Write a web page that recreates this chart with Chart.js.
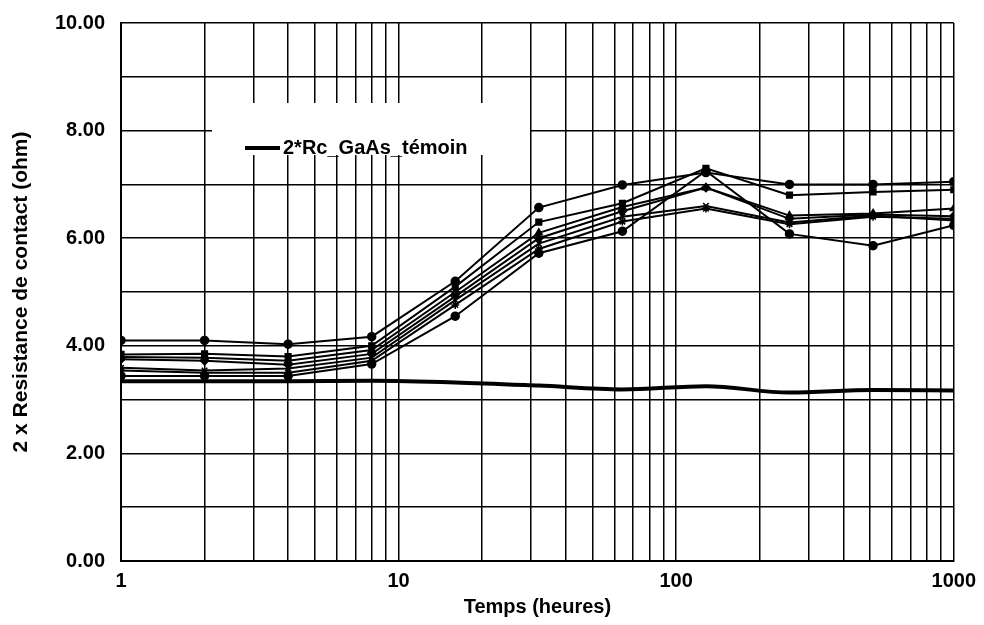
<!DOCTYPE html>
<html>
<head>
<meta charset="utf-8">
<script src="https://cdn.jsdelivr.net/npm/chart.js@4.4.0/dist/chart.umd.min.js"></script>
<style>
  html, body { margin: 0; padding: 0; background: #fff; }
  #wrap { width: 984px; height: 625px; }
</style>
</head>
<body>
<div id="wrap"><canvas id="chart"></canvas></div>
<script>
// temps de vieillissement (heures)
const hours = [1, 2, 4, 8, 16, 32, 64, 128, 256, 512, 1000];

// 2 x résistance de contact (ohm), une liste par échantillon
const serie1 = [4.10, 4.10, 4.03, 4.17, 5.20, 6.57, 6.99, 7.22, 7.00, 7.00, 7.05];
const serie2 = [3.84, 3.85, 3.80, 4.00, 5.10, 6.30, 6.65, 7.30, 6.80, 6.86, 6.90];
const serie3 = [3.79, 3.78, 3.72, 3.92, 5.00, 6.10, 6.58, 6.94, 6.42, 6.46, 6.55];
const serie4 = [3.75, 3.72, 3.65, 3.85, 4.92, 6.00, 6.50, 6.94, 6.36, 6.44, 6.41];
const serie5 = [3.59, 3.54, 3.58, 3.78, 4.85, 5.90, 6.40, 6.60, 6.29, 6.42, 6.33];
const serie6 = [3.54, 3.50, 3.50, 3.72, 4.76, 5.80, 6.31, 6.55, 6.26, 6.40, 6.36];
const serie7 = [3.44, 3.44, 3.44, 3.66, 4.55, 5.72, 6.13, 7.25, 6.08, 5.86, 6.24];
const temoin = [3.34, 3.34, 3.34, 3.35, 3.32, 3.26, 3.19, 3.25, 3.13, 3.18, 3.17];

const temoinLabel = '2*Rc_GaAs_témoin';
const xTickLabels = [1, 10, 100, 1000];

const FONT = 'Liberation Sans, Arial, sans-serif';

function toPoints(values) {
    return values.map((v, i) => ({ x: hours[i], y: v }));
}

const samples = [serie1, serie2, serie3, serie4, serie5, serie6, serie7];
const markers = ['circle', 'rect', 'triangle', 'rectRot', 'crossRot', 'star', 'circle'];

const datasets = samples.map((s, i) => ({
    label: 'Rc ' + (i + 1),
    data: toPoints(s),
    borderColor: '#000',
    backgroundColor: '#000',
    borderWidth: 2,
    pointStyle: markers[i],
    pointRadius: 4,
    pointBorderWidth: 1.5,
    tension: 0
}));

datasets.push({
    label: temoinLabel,
    data: toPoints(temoin),
    borderColor: '#000',
    backgroundColor: '#000',
    borderWidth: 4,
    pointRadius: 0,
    cubicInterpolationMode: 'monotone',
    isTemoin: true
});

// légende dans la zone du graphe (boîte blanche)
const legendInside = {
    id: 'legendInside',
    beforeDatasetsDraw(chart) {
        const ctx = chart.ctx;
        const ds = chart.data.datasets.find(d => d.isTemoin);
        ctx.save();
        ctx.fillStyle = '#fff';
        ctx.fillRect(212, 103, 318, 52);
        ctx.strokeStyle = '#000';
        ctx.lineWidth = 4;
        ctx.beginPath();
        ctx.moveTo(245, 148);
        ctx.lineTo(280, 148);
        ctx.stroke();
        ctx.fillStyle = '#000';
        ctx.font = 'bold 20px ' + FONT;
        ctx.textBaseline = 'middle';
        ctx.fillText(ds.label, 283, 148);
        ctx.restore();
    }
};

new Chart(document.getElementById('chart'), {
    type: 'line',
    data: { datasets: datasets },
    plugins: [legendInside],
    options: {
        responsive: true,
        maintainAspectRatio: false,
        animation: false,
        layout: { padding: { top: 23, right: 24, left: 0, bottom: 0 } },
        plugins: {
            legend: { display: false },
            tooltip: { enabled: false }
        },
        scales: {
            x: {
                type: 'logarithmic',
                min: 1,
                max: 1000,
                afterBuildTicks(scale) {
                    const t = [];
                    for (let d = 1; d < 1000; d *= 10) {
                        for (let k = 1; k < 10; k++) t.push({ value: k * d });
                    }
                    t.push({ value: 1000 });
                    scale.ticks = t;
                },
                afterFit(scale) { scale.height = 64; },
                ticks: {
                    autoSkip: false,
                    maxRotation: 0,
                    padding: 8,
                    color: '#000',
                    font: { family: FONT, size: 20, weight: 'bold' },
                    callback: v => xTickLabels.includes(v) ? String(v) : ''
                },
                grid: { color: '#000', lineWidth: 1.5, drawTicks: false },
                border: { color: '#000', width: 2 },
                title: {
                    display: true,
                    text: 'Temps (heures)',
                    color: '#000',
                    font: { family: FONT, size: 20, weight: 'bold' },
                    padding: { top: 0, bottom: 6 }
                }
            },
            y: {
                min: 0,
                max: 10,
                afterFit(scale) {
                    scale.width = 121;
                    scale.paddingTop = 0;
                    scale.paddingBottom = 0;
                },
                ticks: {
                    stepSize: 1,
                    padding: 16,
                    color: '#000',
                    font: { family: FONT, size: 20, weight: 'bold' },
                    callback: v => (v % 2 === 0) ? v.toFixed(2) : ''
                },
                grid: { color: '#000', lineWidth: 1.5, drawTicks: false },
                border: { color: '#000', width: 2 },
                title: {
                    display: true,
                    text: '2 x Resistance de contact (ohm)',
                    color: '#000',
                    font: { family: FONT, size: 21, weight: 'bold' },
                    padding: { top: 9, bottom: 0 }
                }
            }
        }
    }
});
</script>
</body>
</html>
